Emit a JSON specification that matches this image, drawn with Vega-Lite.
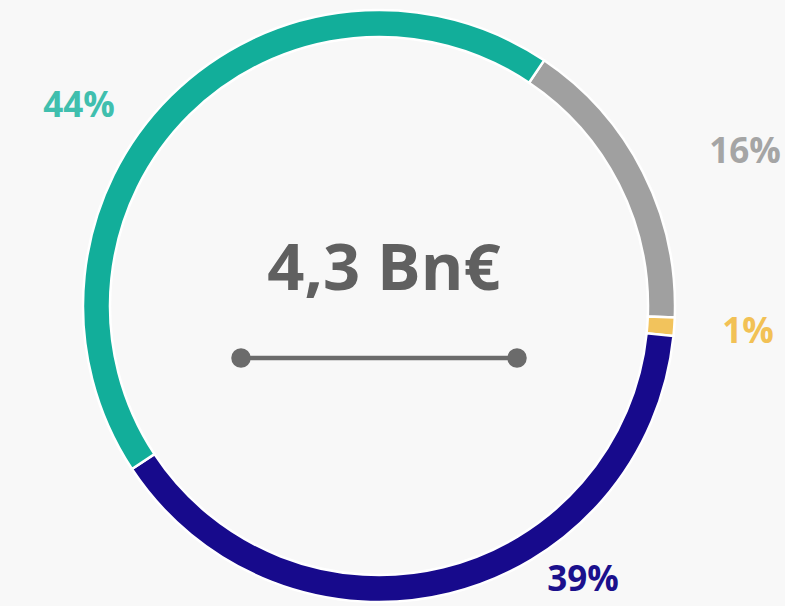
{
  "$schema": "https://vega.github.io/schema/vega-lite/v6.json",
  "width": 758,
  "height": 600,
  "padding": {"left": 0, "top": 6, "right": 27, "bottom": 0},
  "autosize": "none",
  "background": "#f8f8f8",
  "config": {"view": {"stroke": null}},
  "resolve": {"scale": {"color": "independent"}},
  "datasets": {
    "segments": [
      {"name": "Gray", "value": 16.2, "order": 1, "label": "16%", "lx": 366, "ly": 143},
      {"name": "Yellow", "value": 1.0, "order": 2, "label": "1%", "lx": 369, "ly": -37},
      {"name": "Navy", "value": 39.1, "order": 3, "label": "39%", "lx": 204, "ly": -285},
      {"name": "Teal", "value": 43.7, "order": 4, "label": "44%", "lx": -300, "ly": 189}
    ],
    "center": [{"text": "4,3 Bn€", "x": 5, "y": 16}],
    "bar": [{"x": -138, "y": -52}, {"x": 138, "y": -52}]
  },
  "layer": [
    {
      "data": {"name": "segments"},
      "mark": {"type": "arc", "outerRadius": 296, "innerRadius": 269, "stroke": "white", "strokeWidth": 2.5},
      "encoding": {
        "theta": {"field": "value", "type": "quantitative", "stack": true, "scale": {"range": [0.5917, 6.8749]}},
        "order": {"field": "order", "type": "quantitative"},
        "color": {
          "field": "name", "type": "nominal", "legend": null,
          "scale": {"domain": ["Gray", "Yellow", "Navy", "Teal"], "range": ["#a0a0a0", "#f2c35c", "#170a8c", "#12ae9a"]}
        }
      }
    },
    {
      "data": {"name": "segments"},
      "mark": {"type": "text", "font": "Open Sans", "fontWeight": "bold", "fontSize": 35, "align": "center", "baseline": "alphabetic"},
      "encoding": {
        "x": {"field": "lx", "type": "quantitative", "scale": {"domain": [-379, 379], "nice": false, "zero": false}, "axis": null},
        "y": {"field": "ly", "type": "quantitative", "scale": {"domain": [-300, 300], "nice": false, "zero": false}, "axis": null},
        "text": {"field": "label"},
        "color": {
          "field": "name", "type": "nominal", "legend": null,
          "scale": {"domain": ["Gray", "Yellow", "Navy", "Teal"], "range": ["#a5a5a5", "#f2c155", "#1b108c", "#40bfae"]}
        }
      }
    },
    {
      "data": {"name": "bar"},
      "mark": {"type": "line", "color": "#6b6b6b", "strokeWidth": 4.5},
      "encoding": {
        "x": {"field": "x", "type": "quantitative", "scale": {"domain": [-379, 379], "nice": false, "zero": false}, "axis": null},
        "y": {"field": "y", "type": "quantitative", "scale": {"domain": [-300, 300], "nice": false, "zero": false}, "axis": null}
      }
    },
    {
      "data": {"name": "bar"},
      "mark": {"type": "circle", "color": "#6b6b6b", "opacity": 1, "size": 380},
      "encoding": {
        "x": {"field": "x", "type": "quantitative", "scale": {"domain": [-379, 379], "nice": false, "zero": false}, "axis": null},
        "y": {"field": "y", "type": "quantitative", "scale": {"domain": [-300, 300], "nice": false, "zero": false}, "axis": null}
      }
    },
    {
      "data": {"name": "center"},
      "mark": {"type": "text", "font": "Open Sans", "fontWeight": "bold", "fontSize": 65, "align": "center", "baseline": "alphabetic", "color": "#606060"},
      "encoding": {
        "x": {"field": "x", "type": "quantitative", "scale": {"domain": [-379, 379], "nice": false, "zero": false}, "axis": null},
        "y": {"field": "y", "type": "quantitative", "scale": {"domain": [-300, 300], "nice": false, "zero": false}, "axis": null},
        "text": {"field": "text"}
      }
    }
  ]
}
